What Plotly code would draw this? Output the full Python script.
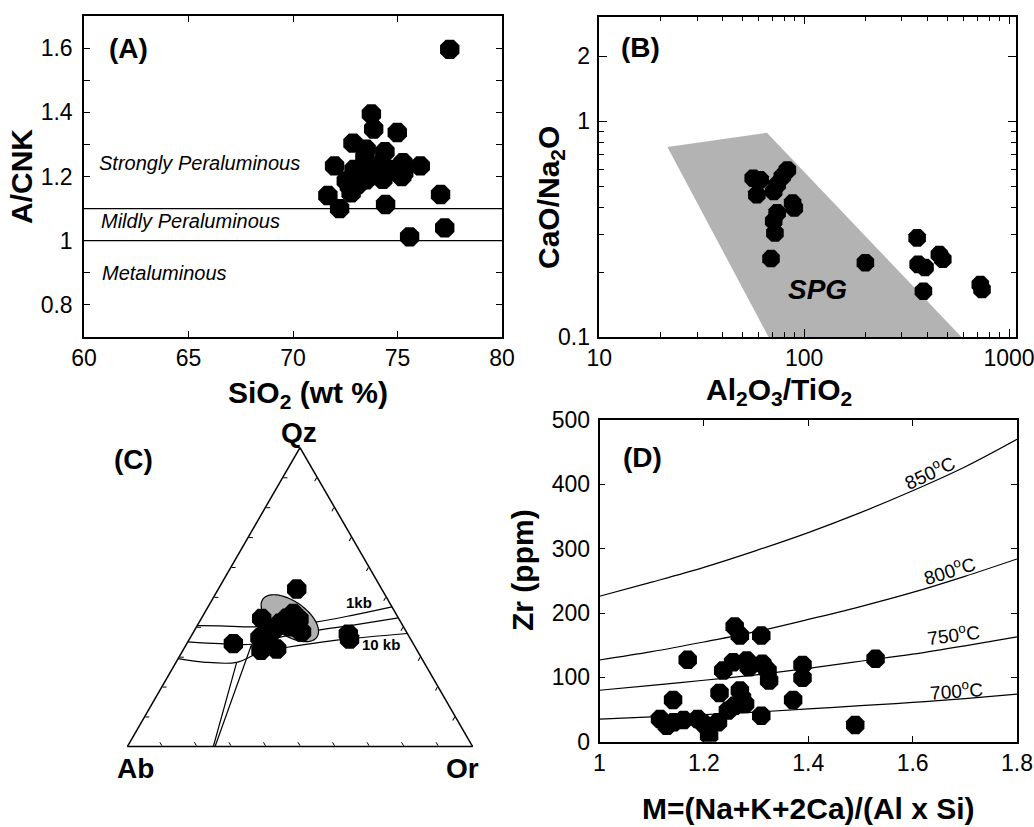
import numpy as np
import plotly.graph_objects as go

W, H = 1034, 827
FONT = "Liberation Sans, Arial, Helvetica, sans-serif"

# ---------------- Panel A: A/CNK vs SiO2 ----------------
a_sio2 = [77.5, 73.75, 73.86, 74.99, 72.87, 73.5, 74.4, 71.99, 72.92, 75.26, 76.09,
          74.3, 75.2, 73.5, 72.7, 73.27, 73.9, 75.3, 74.8, 72.78, 71.67, 72.23, 74.43,
          77.06, 77.26, 75.58, 72.55, 73.1, 73.44, 74.15]
a_acnk = [1.596, 1.395, 1.348, 1.337, 1.304, 1.285, 1.277, 1.233, 1.222, 1.243, 1.233,
          1.191, 1.2, 1.19, 1.17, 1.207, 1.222, 1.212, 1.222, 1.149, 1.141, 1.1, 1.113,
          1.144, 1.04, 1.012, 1.186, 1.175, 1.259, 1.238]
a_bound_x = [60, 80]
a_bound_mild = [1.1, 1.1]
a_bound_meta = [1.0, 1.0]

# ---------------- Panel B: CaO/Na2O vs Al2O3/TiO2 ----------------
b_al_ti = [56.4, 61, 58.7, 82.8, 78.2, 73.8, 71, 87.8, 89.5, 73.8, 71, 72, 68.9,
           199, 356, 360, 389, 382, 457, 475, 724, 738]
b_ca_na = [0.544, 0.535, 0.456, 0.594, 0.554, 0.507, 0.472, 0.417, 0.396, 0.376, 0.344,
           0.303, 0.231, 0.221, 0.288, 0.217, 0.21, 0.163, 0.241, 0.229, 0.175, 0.166]
spg_x = [21.5, 65.8, 586, 67, 21.5]
spg_y = [0.76, 0.883, 0.1, 0.1, 0.76]

# ---------------- Panel C: Qz-Ab-Or ternary ----------------
c_qz = [0.527, 0.344, 0.376, 0.359, 0.428, 0.364, 0.322, 0.326, 0.445, 0.426, 0.383,
        0.412, 0.429, 0.389, 0.361, 0.400]
c_ab = [0.246, 0.521, 0.172, 0.177, 0.397, 0.434, 0.452, 0.4045, 0.297, 0.290, 0.304,
        0.352, 0.324, 0.383, 0.411, 0.329]
c_or = [0.227, 0.135, 0.452, 0.464, 0.175, 0.202, 0.226, 0.2695, 0.258, 0.284, 0.313,
        0.236, 0.247, 0.228, 0.228, 0.271]

cot1_qz = [0.404, 0.4035, 0.400, 0.406, 0.417, 0.4395, 0.467]
cot1_ab = [0.596, 0.530, 0.435, 0.340, 0.243, 0.126, 0.0]
cot1_or = [0.0, 0.0665, 0.165, 0.254, 0.340, 0.4345, 0.533]
cot2_qz = [0.350, 0.344, 0.342, 0.369, 0.389, 0.406, 0.430]
cot2_ab = [0.650, 0.560, 0.469, 0.359, 0.253, 0.143, 0.0]
cot2_or = [0.0, 0.096, 0.189, 0.272, 0.358, 0.451, 0.570]
cot3_qz = [0.294, 0.2824, 0.2814, 0.315, 0.3275, 0.3554, 0.378]
cot3_ab = [0.706, 0.639, 0.543, 0.458, 0.394, 0.216, 0.0]
cot3_or = [0.0, 0.079, 0.176, 0.227, 0.278, 0.4285, 0.622]
fsp1_qz = [0.342, 0.0]
fsp1_ab = [0.469, 0.746]
fsp1_or = [0.189, 0.254]
fsp2_qz = [0.2814, 0.0]
fsp2_ab = [0.543, 0.751]
fsp2_or = [0.176, 0.249]

# field ellipse (centre composition, semi-axes as fraction of triangle side, tilt)
ell_qz, ell_or = 0.429, 0.256
ell_a, ell_b, ell_tilt = 0.0955, 0.0492, -35.0

# ---------------- Panel D: Zr vs M ----------------
d_m = [1.116, 1.129, 1.142, 1.161, 1.188, 1.2, 1.21, 1.227, 1.246, 1.259, 1.279, 1.31,
       1.141, 1.169, 1.23, 1.237, 1.256, 1.269, 1.273, 1.282, 1.286, 1.312, 1.322, 1.325,
       1.259, 1.269, 1.31, 1.371, 1.389, 1.389, 1.49, 1.529]
d_zr = [35.3, 24.9, 30.1, 33.7, 35.3, 27.5, 9.3, 30.1, 48.3, 56, 58.7, 40.5,
        64.9, 127.2, 75.8, 110.6, 123.6, 79.4, 68, 126.2, 115.8, 121, 110.6, 95,
        179.1, 165.1, 165.1, 64.9, 119.4, 99.2, 26, 128.8]
iso_m = [1.0, 1.1, 1.2, 1.3, 1.4, 1.5, 1.6, 1.7, 1.8]
iso_850 = [226, 248, 271, 297, 325, 356, 390, 427, 470]
iso_800 = [127, 140, 155, 171, 190, 210, 232, 257, 284]
iso_750 = [80, 87.5, 95.5, 104, 114, 125, 136, 149, 163]
iso_700 = [35, 38.5, 42, 46, 51, 56, 61, 67, 74]


def fx(p):
    return p / W


def fy(p):
    return 1 - p / H


fig = go.Figure()
MK = dict(symbol="octagon", color="black", line=dict(width=0))

# Panel A
fig.add_trace(go.Scatter(x=a_bound_x, y=a_bound_mild, mode="lines",
                         line=dict(color="black", width=1.3), xaxis="x", yaxis="y"))
fig.add_trace(go.Scatter(x=a_bound_x, y=a_bound_meta, mode="lines",
                         line=dict(color="black", width=1.3), xaxis="x", yaxis="y"))
fig.add_trace(go.Scatter(x=a_sio2, y=a_acnk, mode="markers", marker=dict(size=21, **MK),
                         xaxis="x", yaxis="y"))

# Panel B
fig.add_trace(go.Scatter(x=spg_x, y=spg_y, mode="lines", fill="toself",
                         fillcolor="#b3b3b3", line=dict(width=0, color="#b3b3b3"),
                         xaxis="x2", yaxis="y2"))
fig.add_trace(go.Scatter(x=b_al_ti, y=b_ca_na, mode="markers", marker=dict(size=19, **MK),
                         xaxis="x2", yaxis="y2"))

# Panel C
t = np.linspace(0, 2 * np.pi, 120)
th = np.radians(ell_tilt)
s3 = np.sqrt(3) / 2
u0 = ell_or + 0.5 * ell_qz
v0 = ell_qz * s3
uu = u0 + ell_a * np.cos(t) * np.cos(th) - ell_b * np.sin(t) * np.sin(th)
vv = v0 + ell_a * np.cos(t) * np.sin(th) + ell_b * np.sin(t) * np.cos(th)
e_qz = vv / s3
e_or = uu - 0.5 * e_qz
e_ab = 1 - e_qz - e_or

LN = dict(color="black", width=1.2)
for q, a, o in [(cot1_qz, cot1_ab, cot1_or), (cot2_qz, cot2_ab, cot2_or),
                (cot3_qz, cot3_ab, cot3_or), (fsp1_qz, fsp1_ab, fsp1_or),
                (fsp2_qz, fsp2_ab, fsp2_or)]:
    fig.add_trace(go.Scatterternary(a=q, b=a, c=o, mode="lines", line=LN,
                                    line_shape="spline"))
fig.add_trace(go.Scatterternary(a=e_qz, b=e_ab, c=e_or, mode="lines", fill="toself",
                                fillcolor="#b0b0b0", line=dict(color="black", width=1.2)))
fig.add_trace(go.Scatterternary(a=c_qz, b=c_ab, c=c_or, mode="markers",
                                marker=dict(size=21, **MK)))

# Panel D
for iso in [iso_850, iso_800, iso_750, iso_700]:
    fig.add_trace(go.Scatter(x=iso_m, y=iso, mode="lines", line=dict(color="black", width=1.2),
                             line_shape="spline", xaxis="x3", yaxis="y3"))
fig.add_trace(go.Scatter(x=d_m, y=d_zr, mode="markers", marker=dict(size=20, **MK),
                         xaxis="x3", yaxis="y3"))

AX = dict(showline=True, linecolor="black", linewidth=1.5, mirror="ticks", ticks="inside",
          ticklen=6, tickwidth=1.2, tickcolor="black", showgrid=False, zeroline=False,
          automargin=False, ticklabeloverflow="allow",
          tickfont=dict(family=FONT, size=23, color="black"))

fig.update_layout(
    width=W, height=H, margin=dict(l=0, r=0, t=0, b=0, pad=0, autoexpand=False),
    paper_bgcolor="white", plot_bgcolor="white", showlegend=False,
    font=dict(family=FONT, color="black"),
    xaxis=dict(AX, domain=[fx(84), fx(502)], range=[60, 80], tickmode="linear", tick0=60,
               dtick=5, anchor="y"),
    yaxis=dict(AX, domain=[fy(337), fy(16)], range=[0.7, 1.7], tickmode="array",
               tickvals=[0.8, 1, 1.2, 1.4, 1.6], ticktext=["0.8", "1", "1.2", "1.4", "1.6"],
               ticklabelstandoff=5,
               minor=dict(tickvals=[0.7, 0.9, 1.1, 1.3, 1.5], ticks="inside", ticklen=6,
                          tickcolor="black"), anchor="x"),
    xaxis2=dict(AX, domain=[fx(599.3), fx(1016)], type="log", range=[1, 3.034],
                tickmode="array", tickvals=[10, 100, 1000], ticktext=["10", "100", "1000"],
                ticklen=8,
                minor=dict(tickvals=[20, 30, 40, 50, 60, 70, 80, 90,
                                     200, 300, 400, 500, 600, 700, 800, 900],
                           ticks="inside", ticklen=5, tickcolor="black"), anchor="y2"),
    yaxis2=dict(AX, domain=[fy(337), fy(16.7)], type="log", range=[-1, 0.484],
                tickmode="array", tickvals=[0.1, 1, 2], ticktext=["0.1", "1", "2"], ticklen=8,
                ticklabelstandoff=3,
                minor=dict(tickvals=[0.2, 0.3, 0.4, 0.5, 0.6, 0.7, 0.8, 0.9],
                           ticks="inside", ticklen=5, tickcolor="black"), anchor="x2"),
    xaxis3=dict(AX, domain=[fx(599.5), fx(1017)], range=[1, 1.8], tickmode="linear",
                tick0=1, dtick=0.2, anchor="y3"),
    yaxis3=dict(AX, domain=[fy(741.7), fy(420)], range=[0, 500], tickmode="linear",
                tick0=0, dtick=100, ticklabelstandoff=3, anchor="x3"),
)

TAX = dict(title=dict(text=""), showticklabels=False, ticks="inside", ticklen=4,
           tickmode="linear", tick0=0, dtick=0.1, showgrid=False, showline=True,
           linecolor="black", linewidth=1.5, tickcolor="black", min=0)
fig.update_layout(ternary=dict(domain=dict(x=[fx(127.3), fx(472.7)], y=[fy(746.5), fy(447.5)]),
                               sum=1, bgcolor="white", aaxis=TAX, baxis=TAX, caxis=TAX))

ann = []


def note(text, x, y, size, xanchor="center", yanchor="middle", angle=0, xref="paper",
         yref="paper"):
    ann.append(dict(text=text, x=x, y=y, xref=xref, yref=yref, showarrow=False,
                    xanchor=xanchor, yanchor=yanchor, textangle=angle,
                    font=dict(family=FONT, size=size, color="black")))


# panel letters
note("<b>(A)</b>", fx(128), fy(49), 28)
note("<b>(B)</b>", fx(640), fy(48), 28)
note("<b>(C)</b>", fx(133), fy(460), 28)
note("<b>(D)</b>", fx(642), fy(458), 28)
# axis titles
note("<b>SiO<sub>2</sub> (wt %)</b>", fx(308), fy(394), 30)
note("<b>A/CNK</b>", fx(22), fy(177), 30, angle=-90)
note("<b>Al<sub>2</sub>O<sub>3</sub>/TiO<sub>2</sub></b>", fx(779), fy(391), 30)
note("<b>CaO/Na<sub>2</sub>O</b>", fx(550), fy(198), 30, angle=-90)
note("<b>Zr (ppm)</b>", fx(522), fy(570), 30, angle=-90)
note("<b>M=(Na+K+2Ca)/(Al x Si)</b>", fx(808), fy(808), 30)
# panel A field names
note("<i>Strongly Peraluminous</i>", 60.6, 1.243, 20, xanchor="left", xref="x", yref="y")
note("<i>Mildly Peraluminous</i>", 60.7, 1.061, 20, xanchor="left", xref="x", yref="y")
note("<i>Metaluminous</i>", 60.75, 0.9, 20, xanchor="left", xref="x", yref="y")
# panel B
note("<b><i>SPG</i></b>", np.log10(116.7), np.log10(0.166), 28, xref="x2", yref="y2")
# panel C
note("<b>Qz</b>", fx(299), fy(432), 28)
note("<b>Ab</b>", fx(135), fy(768), 28)
note("<b>Or</b>", fx(462), fy(768), 28)
note("<b>1kb</b>", fx(359), fy(602.5), 15)
note("<b>10 kb</b>", fx(381), fy(644.5), 15)
# panel D isotherms
note("850<sup>o</sup>C", fx(929), fy(472), 19, angle=-25)
note("800<sup>o</sup>C", fx(949), fy(570), 19, angle=-17)
note("750<sup>o</sup>C", fx(953.5), fy(634), 19, angle=-7)
note("700<sup>o</sup>C", fx(956), fy(690), 19, angle=-4)

fig.update_layout(annotations=ann)
fig.write_html("out.html")
